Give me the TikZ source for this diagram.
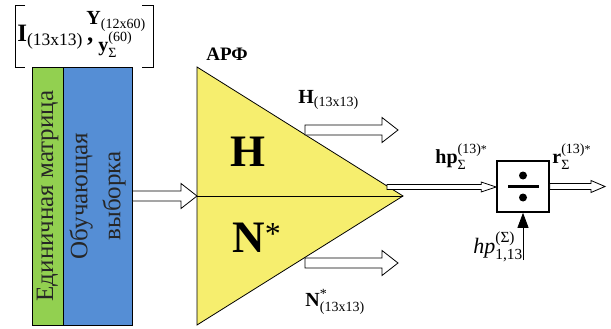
\documentclass[tikz,border=0pt]{standalone}
\usepackage{amsmath}
\usepackage{fontspec}
\setmainfont{Liberation Serif}
\usetikzlibrary{arrows.meta, calc, positioning}
\definecolor{unitgreen}{RGB}{146,208,80}
\definecolor{trainblue}{RGB}{85,142,213}
\definecolor{arfyellow}{RGB}{246,238,110}
% hollow block arrow: start, end, shaft half width, head half width, head length
\newcommand{\hollowarrow}[5]{%
  \draw[fill=white, line width=0.8pt] let \p1=(#1), \p2=(#2) in
    (\x1,\y1+#3pt) -- (\x2-#5pt,\y1+#3pt) -- (\x2-#5pt,\y1+#4pt) -- (\x2,\y1)
    -- (\x2-#5pt,\y1-#4pt) -- (\x2-#5pt,\y1-#3pt) -- (\x1,\y1-#3pt) -- cycle;}

\begin{document}
\begin{tikzpicture}[x=1pt, y=-1pt, line width=0.8pt,
    column/.style={draw, rotate=90, minimum width=258pt, align=center, text=black!85},
    lbl/.style={inner sep=0pt, anchor=base west}]
    \useasboundingbox (0,0) rectangle (611,329);

    % Input data in brackets
    \draw (25,5) -- (15,5) -- (15,67) -- (25,67);
    \draw (142,5) -- (153,5) -- (153,67) -- (142,67);
    \node[lbl, font=\fontsize{25}{30}\selectfont] (imat) at (17,42) {$\textbf{I}_{\text{(13x13)}}\,\textbf{,}$};
    \node[lbl, font=\fontsize{20}{24}\selectfont] (ymat) at (86,25) {$\textbf{Y}_{\text{(12x60)}}$};
    \node[lbl, font=\fontsize{20}{24}\selectfont] (ysum) at (98,52) {$\textbf{y}^{\text{(60)}}_{\text{Σ}}$};

    % Training set columns
    \node[column, fill=unitgreen, minimum height=31pt, font=\fontsize{25}{30}\selectfont] (unit) at (47.5,196) {Единичная матрица};
    \node[column, fill=trainblue, minimum height=69pt, font=\fontsize{25}{33}\selectfont] (train) at (97.5,196) {Обучающая\\выборка};

    % ARF triangle
    \coordinate (atop) at (197,67);
    \coordinate (abot) at (197,325);
    \coordinate (amid) at (197,196);
    \coordinate (apex) at (403,196);
    \draw[fill=arfyellow] (atop) -- (apex) -- (abot) -- cycle;
    \draw (amid) -- (apex);
    \node[lbl, font=\fontsize{19}{22}\selectfont\bfseries] (arf) at (206,61) {АРФ};
    \node[font=\fontsize{45}{50}\selectfont\bfseries] (bigH) at (248,152) {H};
    \node[lbl, font=\fontsize{45}{50}\selectfont] (bigN) at (232,252) {\textbf{N}\raisebox{8pt}{\fontsize{32}{32}\selectfont*}};

    % Outputs H and N
    \coordinate (hs) at (305,130);
    \coordinate (he) at (398,130);
    \coordinate (ns) at (305,263);
    \coordinate (ne) at (398,263);
    \node[lbl, font=\fontsize{20}{24}\selectfont] (hlab) at (298,103) {$\textbf{H}_{\text{(13x13)}}$};
    \node[lbl, font=\fontsize{20}{24}\selectfont] (nlab) at (305,306) {$\textbf{N}^{\text{*}}_{\text{(13x13)}}$};

    % Divider
    \node[draw, line width=1.6pt, minimum width=52pt, minimum height=51pt] (div) at (523,186.5) {};
    \fill ($(div.center)+(-15.5,-1.5)$) rectangle ($(div.center)+(15.5,1.5)$);
    \fill ($(div.center)+(0,-11)$) circle[radius=4pt];
    \fill ($(div.center)+(0,11)$) circle[radius=4pt];
    \coordinate (tri) at (387,187);
    \coordinate (rout) at (605,187);
    \coordinate (hpin) at (523,260);
    \node[lbl, font=\fontsize{20}{24}\selectfont] (hplab) at (435,164) {$\textbf{hp}^{\text{(13)}\text{\large*}}_{\text{Σ}}$};
    \node[lbl, font=\fontsize{20}{24}\selectfont] (rlab) at (552,164) {$\textbf{r}^{\text{(13)}\text{\large*}}_{\text{Σ}}$};
    \node[lbl, font=\fontsize{22}{26}\selectfont] (hpsum) at (473,253) {$\textit{hp}^{\text{(Σ)}}_{\text{1,13}}$};

    % Arrows
    \hollowarrow{train.south |- amid}{amid}{5}{12.5}{16}
    \hollowarrow{hs}{he}{5}{12.5}{16}
    \hollowarrow{ns}{ne}{5}{12.5}{16}
    \hollowarrow{tri}{div.west}{2.5}{5}{15}
    \hollowarrow{div.east}{rout}{3}{6}{14}
    \draw[-{Triangle[length=15pt, width=11pt]}] (hpin) -- (div.south);
\end{tikzpicture}
\end{document}
